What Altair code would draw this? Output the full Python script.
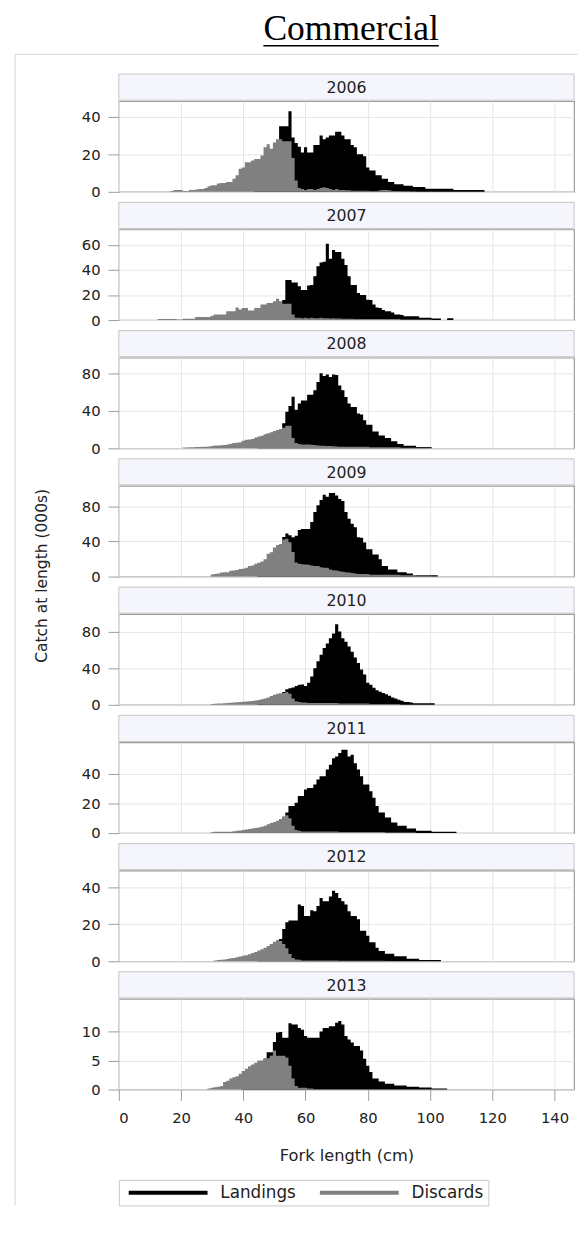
import altair as alt
import pandas as pd

# ---------------- data (1-cm length bins) ----------------
YEARS = [2006, 2007, 2008, 2009, 2010, 2011, 2012, 2013]
Y_MAX = [48.3, 72.5, 96.5, 103.0, 99.0, 61.0, 48.9, 15.6]
Y_TICKS = [[0, 20, 40], [0, 20, 40, 60], [0, 40, 80], [0, 40, 80],
           [0, 40, 80], [0, 20, 40], [0, 20, 40], [0, 5, 10]]
X_TICKS = [0, 20, 40, 60, 80, 100, 120, 140]
SERIES = ["Landings", "Discards"]
SERIES_COLORS = ["#000000", "#808080"]

LAND_START = [44, 48, 45, 45, 45, 47, 45, 40]
DISC_START = [17, 13, 21, 30, 30, 30, 31, 29]

LAND_2006 = [1, 1.5, 2, 3, 5, 8, 15, 20, 35, 35,
             35, 43, 29, 26, 24, 21, 23.7, 21, 21, 25,
             25, 30, 28, 29, 30, 30, 32, 32, 30, 28,
             28, 25, 23.7, 20, 20, 19, 13, 11.4, 11.4, 8.8,
             8.8, 7, 7, 5.3, 5.3, 4, 4, 4, 3.2, 3.2,
             3.2, 2.6, 2.6, 2.6, 2.6, 1.6, 1.6, 1.6, 1.6, 1.6,
             1.6, 1.6, 1.6, 1.6, 1, 1, 1, 1, 1, 1,
             1, 1, 1, 1]
DISC_2006 = [0.5, 1, 1, 1, 0.5, 0.5, 1, 1, 1.2, 1.5,
             1.5, 2, 3, 3.5, 3.5, 4.5, 4.7, 4.7, 5.3, 5.3,
             7, 8.8, 12.3, 13, 15.8, 15.8, 16.7, 17.5, 17.5, 19.3,
             23.7, 25.4, 23, 26.3, 28, 28, 27, 27, 27, 18,
             6, 2, 1.5, 1, 1.5, 1.5, 1, 1.5, 2, 2.5,
             2, 1.5, 1, 1.5, 1, 1, 0.8, 0.8, 0.6, 0.6,
             0.6, 0.6, 0.6, 0.6, 0.5, 0.5, 0.5, 0.8, 1, 1,
             0.8, 0.5, 0.4, 0.4, 0.3, 0.3, 0.3, 0.2, 0.2]

LAND_2007 = [3, 5, 7, 10, 14, 16, 32, 32, 30, 30,
             27, 24, 24, 27.6, 28, 35, 43, 46, 46.6, 61,
             49, 56, 54.5, 54.5, 49, 44, 35, 28, 28, 21.6,
             20, 20, 16.3, 16, 12.4, 10, 9.7, 8, 7, 7,
             6, 4.5, 4.5, 4, 3, 3, 3, 3, 3, 1.8,
             1.8, 1.8, 1.8, 1.2, 1.2, 1.2, 0, 0, 1.5, 1.5]
DISC_2007 = [0.8, 0.8, 0.8, 0.8, 0.8, 0.8, 0.5, 0.5, 1, 1,
             1, 1, 2.4, 2.4, 2.4, 2.4, 2.4, 3.5, 4.5, 4.5,
             4.5, 4.5, 7, 7, 7, 10, 8.4, 9.7, 9.7, 7.6,
             7.6, 9.7, 9.7, 12.4, 12.4, 13.7, 13.7, 15, 17, 15,
             13, 13, 13, 4.5, 1.8, 1.8, 1.5, 1.8, 1.5, 1.8,
             1.5, 1.5, 1.8, 1.5, 1.5, 1.2, 1.5, 1.2, 1.2, 1,
             1, 1, 1, 0.8, 0.8, 0.8, 0.8, 0.8, 0.8, 0.8,
             0.8, 0.8, 0.8, 0.8, 0.8, 0.8, 0.8, 0.8, 0.4, 0.4,
             0.4, 0.4, 0.4, 0.4, 0.4, 0.4, 0.4, 0.4]

LAND_2008 = [2, 3, 4, 5, 7, 10, 14, 18, 26.7, 39,
             45, 55, 41, 47.7, 51, 51, 57, 57, 61.8, 70.5,
             80, 77, 78.6, 75.8, 78.6, 78, 67, 61.8, 54.7, 47.7,
             44, 44, 37, 36, 30, 25, 25, 18, 18, 13.7,
             13.7, 11, 11, 7.4, 7.4, 4.6, 4.6, 2.8, 2.8, 2.8,
             2.8, 1.4, 1.4, 1.4, 1.4, 1.4]
DISC_2008 = [1, 1, 1.2, 1.2, 1.4, 1.5, 1.6, 1.8, 2, 2.5,
             3, 3, 3.2, 3.5, 4, 5, 5.6, 6, 6.5, 8,
             9, 9.5, 10, 11.5, 12.6, 13.5, 15, 16, 17, 18.5,
             19.6, 20.5, 22, 24, 24, 11, 5.6, 4.5, 4, 4,
             4, 3.8, 3.5, 3, 2.8, 2.8, 2.6, 2.5, 2.2, 2,
             1.8, 1.8, 1.8, 1.8, 1.8, 1.8, 1.8, 1.8, 1.8, 1.8,
             1.2, 1.2, 1.2, 1.2, 1.2, 1.2, 1.2, 1.2, 1.2, 1.2,
             0.6, 0.6, 0.6, 0.6, 0.6, 0.6, 0.6, 0.6, 0.6, 0.6]

LAND_2009 = [3, 4, 6, 9, 12, 18, 25, 36, 45, 49,
             47, 44.6, 46.5, 53, 54, 54, 54, 62, 73.5, 81,
             87, 93, 90.8, 95, 95, 92, 88, 86, 73.5, 65.8,
             60, 56, 44.6, 44, 38.8, 31, 31, 25, 25, 19.6,
             12, 12, 8, 8, 8, 5, 5, 5, 3.5, 3.5,
             1.5, 1.5, 1.5, 1.5, 1.5, 1.5, 1.5, 1.5]
DISC_2009 = [2.3, 3, 3.5, 4.5, 5, 5, 6.5, 7, 7.5, 8.5,
             8.8, 10, 12, 12.5, 14.5, 15.8, 17, 19.6, 26, 27.5,
             33, 36, 37, 42, 43, 39, 28, 16, 14.5, 14,
             13.8, 13.5, 12.5, 12, 12, 10.5, 10, 10, 8, 7.3,
             7, 6, 5.5, 5, 4.5, 4, 3.5, 3, 3, 3,
             2.8, 2, 2, 2, 2, 2, 2, 2, 2, 2,
             2, 1.5, 1.5, 1.5, 1.5, 1.5, 1, 1, 1, 1, 1]

LAND_2010 = [1, 1.5, 2, 3, 4, 6, 8, 10, 14, 17,
             18, 19, 20.5, 22, 22.3, 20.5, 24, 31, 40, 47.5,
             54.7, 62, 67, 72.7, 78, 88, 80, 72.7, 69, 63.7,
             58, 51.8, 45.7, 38.5, 33, 24, 22, 18.7, 16, 14.4,
             13, 11.5, 10, 8, 7, 5.4, 4.5, 3.2, 3, 2.5,
             1.8, 1.8, 1.8, 1.8, 1.8, 1.8, 1.8]
DISC_2010 = [1, 1.2, 1.4, 1.5, 1.8, 2, 2.2, 2.5, 2.8, 3,
             3.3, 3.6, 4, 4.3, 4.8, 5.3, 6, 7, 8, 9.5,
             11, 12, 12.5, 13, 14, 12, 7, 4, 3, 2.5,
             2.5, 2, 2, 2, 2, 2, 2, 2, 2, 2,
             2, 1.5, 1.5, 1.5, 1.5, 1.5, 1.5, 1.5, 1.5, 1.5,
             1.5, 1, 1, 1, 1, 1, 1, 1, 1, 1, 1]

LAND_2011 = [1, 2, 3, 5, 7, 9, 11, 13.8, 18.2, 18.2,
             20.4, 24.9, 24.9, 29.3, 30.4, 30.4, 32.7, 36, 38.2, 38.2,
             42.7, 46, 50.4, 51.6, 53.8, 56, 56, 51.6, 52.7, 47,
             42.7, 38.2, 32.7, 32.7, 28.2, 23.8, 18.2, 13.8, 13.8, 10.4,
             10.4, 7.1, 7.1, 4.9, 4.9, 4.9, 3.1, 3.1, 3.1, 1.6,
             1.6, 1.6, 1.6, 1.6, 0.9, 0.9, 0.9, 0.9, 0.9, 0.9,
             0.9, 0.9]
DISC_2011 = [0.5, 0.8, 0.8, 0.8, 0.8, 0.8, 0.8, 1.2, 1.5, 1.8,
             2, 2.4, 2.7, 3, 3.4, 3.8, 4.3, 5, 6, 6.8,
             7.5, 8.2, 9.5, 11, 12, 10, 5, 2, 1.5, 1,
             1, 1, 1, 1, 1, 1, 1, 1, 1, 1,
             1, 0.7, 0.7, 0.7, 0.7, 0.7, 0.7, 0.7, 0.7, 0.7,
             0.7, 0.7, 0.7, 0.7, 0.7, 0.7, 0.4, 0.4, 0.4, 0.4,
             0.4, 0.4, 0.4, 0.4, 0.4, 0.4]

LAND_2012 = [1, 2, 3, 4, 6, 8, 10, 12, 17.4, 21,
             22, 22, 22, 30.7, 29.8, 24.5, 24.5, 27.5, 27, 29.8,
             34.2, 32.4, 32.4, 35, 38, 36.9, 34.2, 32.4, 30.7, 27,
             24.5, 24.5, 22.7, 16.5, 16.5, 13.8, 10.3, 10.3, 7.3, 5.5,
             5.5, 4.1, 4.1, 4.1, 2.7, 2.7, 2.7, 2.7, 1.4, 1.4,
             1.4, 1.4, 0.7, 0.7, 0.7, 0.7, 0.7, 0.7, 0.7]
DISC_2012 = [0.5, 0.7, 0.9, 1, 1.3, 1.6, 1.8, 2.2, 2.6, 3,
             3.3, 3.8, 4.5, 5, 5.8, 6.5, 7.3, 8.3, 9.4, 10.5,
             11.5, 11, 9.4, 7, 4, 1.8, 1, 0.8, 0.5, 0.5,
             0.5, 0.5, 0.5, 0.5, 0.5, 0.5, 0.5, 0.5, 0.5, 0.5,
             0.3, 0.3, 0.3, 0.3, 0.3, 0.3, 0.3, 0.3, 0.3, 0.3,
             0.3, 0.3, 0.3, 0.3, 0.3]

LAND_2013 = [0.5, 1, 1.5, 2, 2.5, 3, 4.5, 5.3, 6.4, 6.4,
             8.2, 9.8, 9.9, 8.9, 8.9, 11.4, 11.2, 11.2, 10.6, 10.3,
             9.2, 8.9, 8.9, 8.9, 8.9, 10, 10.6, 10.6, 10.9, 10.9,
             11.5, 11.8, 11.2, 9.2, 8.6, 8.1, 7.5, 7.5, 6.7, 5.3,
             4.1, 3, 1.9, 1.9, 1.4, 1.4, 1, 1, 1, 0.7,
             0.7, 0.7, 0.7, 0.5, 0.5, 0.5, 0.5, 0.35, 0.35, 0.35,
             0.35, 0.2, 0.2, 0.2, 0.2, 0.2]
DISC_2013 = [0.2, 0.3, 0.4, 0.5, 0.6, 1.3, 1.5, 1.9, 2.1, 2.3,
             2.7, 3.2, 3.6, 4, 4.3, 4.6, 5, 5, 5.4, 5.4,
             5.8, 6.7, 5.8, 5.8, 5.8, 5.5, 4.1, 1.9, 0.6, 0.3,
             0.3, 0.3, 0.2, 0.2]

LAND = [LAND_2006, LAND_2007, LAND_2008, LAND_2009, LAND_2010, LAND_2011, LAND_2012, LAND_2013]
DISC = [DISC_2006, DISC_2007, DISC_2008, DISC_2009, DISC_2010, DISC_2011, DISC_2012, DISC_2013]

TITLE = "Commercial"
X_TITLE = "Fork length (cm)"
Y_TITLE = "Catch at length (000s)"

# ---------------- layout constants ----------------
W, H = 462, 92
SPACING = 38.15
SANS = "DejaVu Sans"
SERIF = "Liberation Serif"
TXT = "#222222"
FRAME = "#9c9c9c"
LINE_SYMBOL = "M-1,-0.05H1V0.05H-1Z"
LEGEND_Y = 1094.7
LEGEND_BOTTOM = 1120.7


def series_frame(start, values, name):
    cms = [start - 1] + [start + k for k in range(len(values))] + [start + len(values)]
    vals = [0] + list(values) + [0]
    return pd.DataFrame({"cm": cms, "value": vals, "series": name})


color = alt.Color(
    "series:N",
    scale=alt.Scale(domain=SERIES, range=SERIES_COLORS),
    legend=alt.Legend(
        title=None, orient="none", legendX=0, legendY=LEGEND_Y,
        direction="horizontal", symbolType=LINE_SYMBOL, symbolSize=6400,
        clipHeight=16, labelFont=SANS, labelFontSize=17, labelColor=TXT,
        strokeColor="#c8c8c8", fillColor="white", padding=5, symbolOffset=4,
        columnPadding=19, labelOffset=12,
    ),
)


def panel(i):
    last = i == len(YEARS) - 1
    land = series_frame(LAND_START[i], LAND[i], SERIES[0])
    disc = series_frame(DISC_START[i], DISC[i], SERIES[1])

    if last:
        xaxis = alt.Axis(values=X_TICKS, grid=True, domain=False, ticks=True, tickSize=11,
                         tickColor=FRAME, labelFont=SANS, labelFontSize=15, labelColor=TXT,
                         labelPadding=10, title=X_TITLE, titleFont=SANS, titleFontSize=16.5,
                         titleFontWeight="normal", titleColor=TXT, titlePadding=23)
    else:
        xaxis = alt.Axis(values=X_TICKS, grid=True, domain=False, ticks=False, labels=False,
                         title=None)
    x = alt.X("cm:Q", scale=alt.Scale(domain=[0, 146.3], nice=False), axis=xaxis)
    y = alt.Y("value:Q", scale=alt.Scale(domain=[0, Y_MAX[i]], nice=False, zero=True),
              axis=alt.Axis(values=Y_TICKS[i], grid=True, domain=False, tickSize=11,
                            tickColor=FRAME, labelFont=SANS, labelFontSize=15,
                            labelColor=TXT, labelPadding=8, title=None))

    hdr = pd.DataFrame({"label": [str(YEARS[i])]})
    header = alt.Chart(hdr).mark_rect(fill="#f5f6fc", stroke="#c4c4c4", strokeWidth=1).encode(
        x=alt.value(0), x2=alt.value(W), y=alt.value(-27.5), y2=alt.value(-1))
    htext = alt.Chart(hdr).mark_text(font=SANS, fontSize=16, color=TXT, baseline="middle",
                                     align="center").encode(
        x=alt.value(W / 2), y=alt.value(-13.5), text="label:N")
    land_area = alt.Chart(land).mark_area(interpolate="step").encode(x=x, y=y, color=color)
    disc_area = alt.Chart(disc).mark_area(interpolate="step").encode(x=x, y=y, color=color)

    layers = [header, htext, land_area, disc_area]

    if i == 0:
        tdf = pd.DataFrame({"t": [TITLE]})
        layers.append(alt.Chart(tdf).mark_text(font=SERIF, fontSize=36, color="black",
                                               align="center", baseline="alphabetic").encode(
            x=alt.value(235.7), y=alt.value(-62.3), text="t:N"))
        layers.append(alt.Chart(tdf).mark_rule(color="black", strokeWidth=1.5).encode(
            x=alt.value(146.7), x2=alt.value(324.7), y=alt.value(-56.3)))
        layers.append(alt.Chart(tdf).mark_rule(color="#d4d4d4", strokeWidth=1).encode(
            x=alt.value(-105.3), y=alt.value(-47.6), y2=alt.value(LEGEND_BOTTOM)))
        layers.append(alt.Chart(tdf).mark_rule(color="#d4d4d4", strokeWidth=1).encode(
            x=alt.value(-105.3), x2=alt.value(466), y=alt.value(-47.6)))
    if i == 4:
        ydf = pd.DataFrame({"t": [Y_TITLE]})
        layers.append(alt.Chart(ydf).mark_text(font=SANS, fontSize=15.7, color=TXT, angle=270,
                                               align="center", baseline="middle").encode(
            x=alt.value(-78.3), y=alt.value(-38.9), text="t:N"))

    return alt.layer(*layers).properties(width=W, height=H)


chart = alt.vconcat(*[panel(i) for i in range(len(YEARS))], spacing=SPACING, bounds="flush")
chart = chart.resolve_scale(color="shared", x="independent", y="independent").properties(
    padding={"left": 5.5, "top": -6.4, "right": 0, "bottom": 0},
    background="white",
).configure_view(stroke=FRAME, strokeWidth=1.2).configure_axis(
    gridColor="#e6e6e6", gridWidth=1
)

chart.save("out.html", embed_options={"renderer": "svg", "actions": False})
